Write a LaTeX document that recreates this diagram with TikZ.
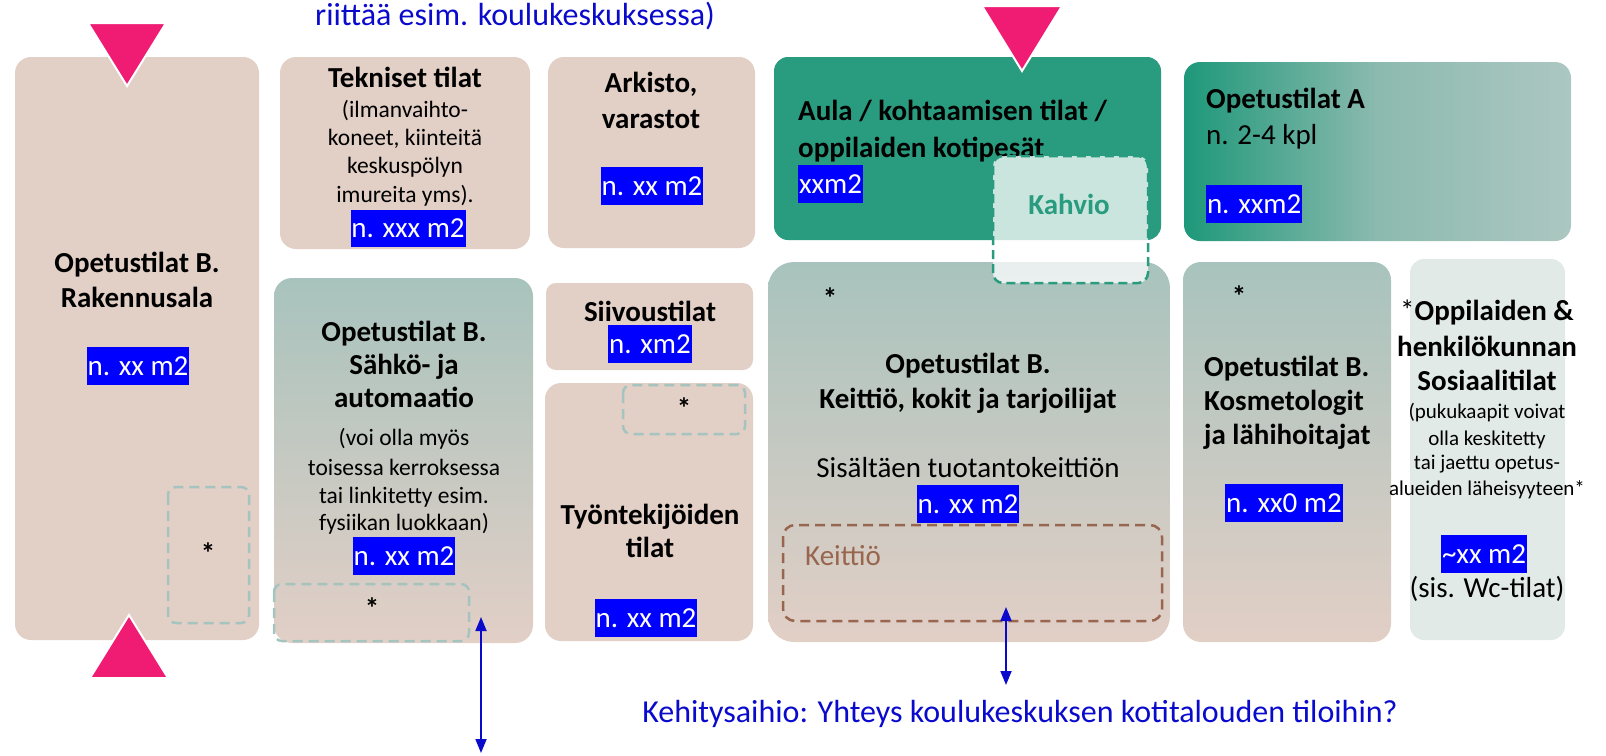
\documentclass[tikz,border=0pt]{standalone}
\usepackage{fontspec}
\setmainfont{Carlito}
\usetikzlibrary{arrows.meta}
\definecolor{beige}{RGB}{226,207,198}
\definecolor{aulateal}{RGB}{41,155,126}
\definecolor{gtop}{RGB}{168,195,189}
\definecolor{socfill}{RGB}{226,234,231}
\definecolor{pinktri}{RGB}{240,28,115}
\definecolor{hlblue}{RGB}{0,0,255}
\definecolor{txtblue}{RGB}{10,10,205}
\definecolor{dashgray}{RGB}{165,196,191}
\definecolor{dashbrown}{RGB}{152,102,78}
\definecolor{oaleft}{RGB}{30,152,122}
\definecolor{oamid}{RGB}{140,186,175}
\definecolor{oaright}{RGB}{172,199,193}
\tikzset{
  ttl/.style={font=\fontsize{29}{35}\selectfont\bfseries, inner sep=0pt, anchor=base},
  reg/.style={font=\fontsize{29}{35}\selectfont, inner sep=0pt, anchor=base},
  smalltxt/.style={font=\fontsize{23.5}{28}\selectfont, inner sep=0pt, anchor=base},
  tinytxt/.style={font=\fontsize{21}{25}\selectfont, inner sep=0pt, anchor=base},
  hl/.style={fill=hlblue, text=white, font=\fontsize{29}{35}\selectfont, inner xsep=0.8pt, inner ysep=0pt, text height=28pt, text depth=9.5pt},
  star/.style={font=\fontsize{29}{35}\selectfont\bfseries, inner sep=0pt, anchor=base},
  bluetxt/.style={font=\fontsize{32}{38}\selectfont, text=txtblue, inner sep=0pt, anchor=base},
  dashbox/.style={draw=dashgray, line width=2.5pt, dash pattern=on 10pt off 6pt, rounded corners=8pt},
  tri/.style={fill=pinktri, draw=white, line width=2pt, line join=miter},
  bluearrow/.style={draw=txtblue, line width=1.8pt, {Triangle[length=14pt,width=11pt]}-{Triangle[length=14pt,width=11pt]}},
}
\begin{document}
\begin{tikzpicture}[x=1pt,y=-1pt]
\useasboundingbox (0,0) rectangle (1606,755);

% top cut-off text
\node[bluetxt] (toptext) at (515,25) {riittää esim. koulukeskuksessa)};

% Rakennusala
\fill[beige, rounded corners=16pt] (15,57) rectangle (259,640);
\draw[dashbox] (168,487) rectangle (249,623);
\node[star] (starR) at (208,563) {*};
\node[ttl] (rak1) at (137,272) {Opetustilat B.};
\node[ttl] (rak2) at (137,307) {Rakennusala};
\node[hl] (rakhl) at (138,366) {n. xx m2};
\filldraw[tri] (88,23) -- (166,23) -- (127,86) -- cycle;
\filldraw[tri] (90,678) -- (168,678) -- (129,615) -- cycle;

% Tekniset tilat
\fill[beige, rounded corners=16pt] (280,57) rectangle (530,249);
\node[ttl] (tek1) at (405,87) {Tekniset tilat};
\node[smalltxt] (tek2) at (405,117) {(ilmanvaihto-};
\node[smalltxt] (tek3) at (405,145) {koneet, kiinteitä};
\node[smalltxt] (tek4) at (405,173) {keskuspölyn};
\node[smalltxt] (tek5) at (405,202) {imureita yms).};
\node[hl] (tekhl) at (408,228.5) {n. xxx m2};

% Arkisto
\fill[beige, rounded corners=16pt] (548,57) rectangle (755,248);
\node[ttl] (ark1) at (651,92) {Arkisto,};
\node[ttl] (ark2) at (651,128) {varastot};
\node[hl] (arkhl) at (652,186) {n. xx m2};

% Opetustilat A
\shade[left color=oaleft, right color=oaright, middle color=oamid, rounded corners=16pt] (1184,62) rectangle (1571,241);
\node[ttl, anchor=base west] (oa1) at (1206,108) {Opetustilat A};
\node[reg, anchor=base west] (oa2) at (1206,144) {n. 2-4 kpl};
\node[hl, anchor=west] (oahl) at (1206,204) {n. xxm2};

% Sahko
\shade[top color=gtop, bottom color=beige, rounded corners=18pt] (274,278) rectangle (533,643);
\node[ttl] (sa1) at (404,341) {Opetustilat B.};
\node[ttl] (sa2) at (404,374) {Sähkö- ja};
\node[ttl] (sa3) at (404,407) {automaatio};
\node[smalltxt] (sa4) at (404,445) {(voi olla myös};
\node[smalltxt] (sa5) at (404,475) {toisessa kerroksessa};
\node[smalltxt] (sa6) at (404,503) {tai linkitetty esim.};
\node[smalltxt] (sa7) at (404,530) {fysiikan luokkaan)};
\node[hl] (sahl) at (404,556) {n. xx m2};
\draw[dashbox] (274,584) rectangle (469,641);
\node[star] (starS) at (372,618) {*};

% Siivoustilat
\fill[beige, rounded corners=10pt] (546,283) rectangle (753,370);
\node[ttl] (si1) at (650,321) {Siivoustilat};
\node[hl] (sihl) at (650,344) {n. xm2};

% Tyontekijoiden tilat
\fill[beige, rounded corners=16pt] (545,383) rectangle (753,641);
\draw[dashbox] (623,385) rectangle (745,434);
\node[star] (starT) at (684,418) {*};
\node[ttl] (ty1) at (650,524) {Työntekijöiden};
\node[ttl] (ty2) at (650,557) {tilat};
\node[hl] (tyhl) at (646,618) {n. xx m2};

% Aula
\fill[aulateal, rounded corners=14pt] (774,57) rectangle (1161,240);
\node[ttl, anchor=base west] (au1) at (798,120) {Aula / kohtaamisen tilat /};
\node[ttl, anchor=base west] (au2) at (798,157) {oppilaiden kotipesät};
\node[hl, anchor=west] (auhl) at (798,184) {xxm2};

% Keittio
\shade[top color=gtop, bottom color=beige, rounded corners=26pt] (768,262) rectangle (1170,642);
\node[star] (starK) at (830,308) {*};
\node[ttl] (ke1) at (968,373) {Opetustilat B.};
\node[ttl] (ke2) at (968,408) {Keittiö, kokit ja tarjoilijat};
\node[reg] (ke3) at (968,477) {Sisältäen tuotantokeittiön};
\node[hl] (kehl) at (968,504) {n. xx m2};
\draw[draw=dashbrown, line width=2.5pt, dash pattern=on 10pt off 6pt, rounded corners=12pt] (783,525) rectangle (1162,621);
\node[reg, anchor=base west, text=dashbrown] (ke4) at (805,565) {Keittiö};

% Kahvio
\filldraw[fill=white, fill opacity=0.75, draw=aulateal, line width=2.5pt, dash pattern=on 9pt off 5pt, rounded corners=10pt] (993,156) rectangle (1148,283);
\node[ttl, text=aulateal] (kahvio) at (1069,214) {Kahvio};
\filldraw[tri] (982,6) -- (1062,6) -- (1022,71) -- cycle;

% Kosmetologit
\shade[top color=gtop, bottom color=beige, rounded corners=18pt] (1183,262) rectangle (1391,642);
\node[star] (starKo) at (1239,306) {*};
\node[ttl, anchor=base west] (ko1) at (1204,376) {Opetustilat B.};
\node[ttl, anchor=base west] (ko2) at (1204,410) {Kosmetologit};
\node[ttl, anchor=base west] (ko3) at (1204,444) {ja lähihoitajat};
\node[hl] (kohl) at (1284,503) {n. xx0 m2};

% Sosiaalitilat
\fill[socfill, rounded corners=14pt] (1410,259) rectangle (1565,640);
\node[ttl] (so1) at (1487,320) {{\mdseries*}Oppilaiden \&};
\node[ttl] (so2) at (1487,356) {henkilökunnan};
\node[ttl] (so3) at (1487,390) {Sosiaalitilat};
\node[tinytxt] (so4) at (1487,418) {(pukukaapit voivat};
\node[tinytxt] (so5) at (1487,445) {olla keskitetty};
\node[tinytxt] (so6) at (1487,469) {tai jaettu opetus-};
\node[tinytxt] (so7) at (1487,495) {alueiden läheisyyteen*};
\node[hl] (sohl) at (1484,554) {\textasciitilde xx m2};
\node[reg] (so8) at (1487,597) {(sis. Wc-tilat)};

% arrows
\coordinate (a1top) at (481,617);
\coordinate (a1bot) at (481,753);
\draw[bluearrow] (a1top) -- (a1bot);
\coordinate (a2top) at (1006,607);
\coordinate (a2bot) at (1006,685);
\draw[bluearrow] (a2top) -- (a2bot);

% bottom text
\node[bluetxt] (bottomtext) at (1020,722) {Kehitysaihio: Yhteys koulukeskuksen kotitalouden tiloihin?};
\end{tikzpicture}
\end{document}
